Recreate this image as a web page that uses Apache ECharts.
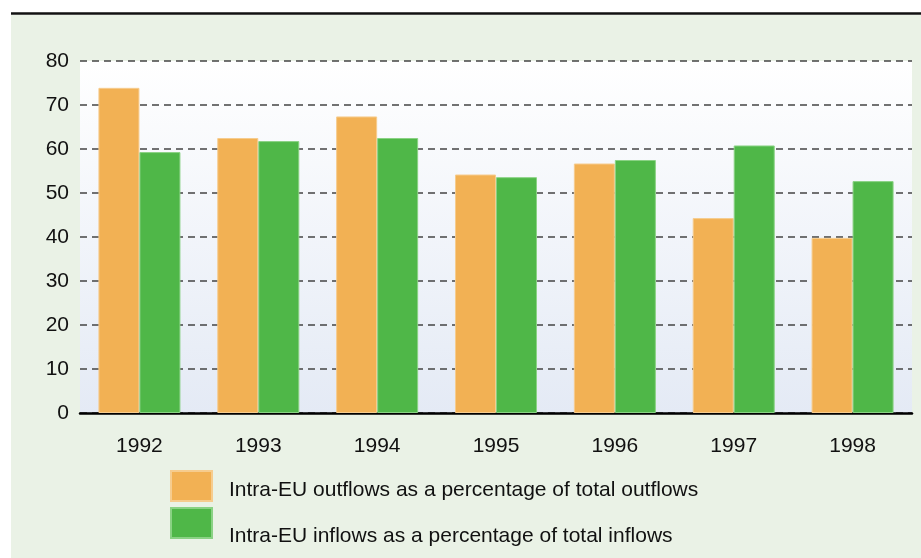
<!DOCTYPE html>
<html>
<head>
<meta charset="utf-8">
<script src="https://cdn.jsdelivr.net/npm/echarts@6/dist/echarts.min.js"></script>
<style>
  html, body { margin: 0; padding: 0; background: #fff; }
  #chart { width: 921px; height: 558px; }
</style>
</head>
<body>
<div id="chart"></div>
<script>
const years = ["1992", "1993", "1994", "1995", "1996", "1997", "1998"];
const outflows = [73.9, 62.5, 67.4, 54.2, 56.7, 44.3, 39.8];
const inflows = [59.3, 61.8, 62.5, 53.6, 57.5, 60.8, 52.7];
const outName = "Intra-EU outflows as a percentage of total outflows";
const inName = "Intra-EU inflows as a percentage of total inflows";

const font = "Liberation Sans, Arial, Helvetica, sans-serif";
const chart = echarts.init(document.getElementById("chart"));

chart.setOption({
  animation: false,
  textStyle: { fontFamily: font },
  graphic: [
    {
      type: "rect",
      silent: true,
      z: -10,
      shape: { x: 11, y: 15, width: 910, height: 543 },
      style: { fill: "#eaf2e6" },
    },
    {
      type: "line",
      silent: true,
      shape: { x1: 11, y1: 13.5, x2: 921, y2: 13.5 },
      style: { stroke: "#111", lineWidth: 2.5 },
    },
  ],
  grid: {
    left: 80,
    right: 9,
    top: 61,
    height: 352,
    show: true,
    borderWidth: 0,
    backgroundColor: new echarts.graphic.LinearGradient(0, 0, 0, 1, [
      { offset: 0, color: "#ffffff" },
      { offset: 1, color: "#e4eaf5" },
    ]),
  },
  // two legends so the second label can sit lower than its swatch, as in the original
  legend: [
    {
      left: 170,
      top: 470,
      padding: 0,
      data: [outName],
      icon: "rect",
      itemWidth: 41,
      itemHeight: 30,
      selectedMode: false,
      formatter: (n) => "\n" + n,
      textStyle: { fontSize: 21, color: "#111", lineHeight: 8, padding: [0, 0, 0, 12] },
    },
    {
      left: 170,
      top: 497,
      padding: 0,
      data: [inName],
      icon: "rect",
      itemWidth: 41,
      itemHeight: 30,
      selectedMode: false,
      formatter: (n) => "\n" + n,
      textStyle: { fontSize: 21, color: "#111", lineHeight: 26, padding: [0, 0, 0, 12] },
    },
  ],
  xAxis: {
    type: "category",
    data: years,
    axisLine: { lineStyle: { color: "#000", width: 2.5 } },
    axisTick: { show: false },
    axisLabel: { fontSize: 21, color: "#111", margin: 23 },
  },
  yAxis: {
    type: "value",
    min: 0,
    max: 80,
    interval: 10,
    axisLine: { show: false },
    axisTick: { show: false },
    axisLabel: { fontSize: 21, color: "#111", margin: 11 },
    splitLine: {
      lineStyle: { color: "#444", type: [7, 5], width: 1.5 },
    },
  },
  series: [
    {
      name: outName,
      type: "bar",
      data: outflows,
      barGap: "0%",
      barCategoryGap: "31%",
      itemStyle: { color: "#f2b154", borderColor: "#f6cc8e", borderWidth: 1 },
    },
    {
      name: inName,
      type: "bar",
      data: inflows,
      itemStyle: { color: "#4fb748", borderColor: "#8ad284", borderWidth: 1 },
    },
  ],
});
</script>
</body>
</html>
